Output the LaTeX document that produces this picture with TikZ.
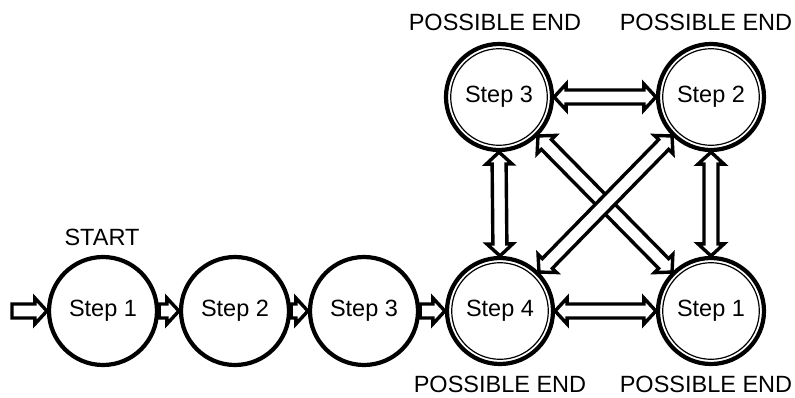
\documentclass[tikz,border=0pt]{standalone}
\usepackage{fontspec}
\setmainfont{Liberation Sans}
\usetikzlibrary{calc}

% block arrow geometry
\newcommand\arrShaft{7pt}
\newcommand\arrHead{13pt}
\newcommand\arrLen{12pt}

\tikzset{
  stepnode/.style={circle, draw, line width=4.2pt, minimum size=108pt, inner sep=0pt,
    font=\fontsize{23.5}{27}\selectfont},
  endnode/.style={circle, draw, line width=4.2pt, minimum size=106pt, inner sep=0pt,
    font=\fontsize{23.5}{27}\selectfont,
    path picture={\draw[line width=1.2pt] (path picture bounding box.center) circle (48.3pt);}},
  caption/.style={font=\fontsize{23.5}{27}\selectfont, inner sep=0pt},
  % hollow arrow with one head, drawn as an outlined polygon
  blockarrow/.style={draw=black, fill=white, line width=3.4pt, line join=miter,
    to path={
      ($(\tikztostart)!\arrShaft!90:(\tikztotarget)$)
      -- ($($(\tikztotarget)!\arrLen!(\tikztostart)$)!\arrShaft!90:(\tikztotarget)$)
      -- ($($(\tikztotarget)!\arrLen!(\tikztostart)$)!\arrHead!90:(\tikztotarget)$)
      -- (\tikztotarget)
      -- ($($(\tikztotarget)!\arrLen!(\tikztostart)$)!\arrHead!-90:(\tikztotarget)$)
      -- ($($(\tikztotarget)!\arrLen!(\tikztostart)$)!\arrShaft!-90:(\tikztotarget)$)
      -- ($(\tikztostart)!\arrShaft!-90:(\tikztotarget)$)
      -- cycle}},
  % hollow arrow with a head at each end
  dblockarrow/.style={draw=black, fill=white, line width=3.4pt, line join=miter,
    to path={
      (\tikztostart)
      -- ($($(\tikztostart)!\arrLen!(\tikztotarget)$)!\arrHead!90:(\tikztotarget)$)
      -- ($($(\tikztostart)!\arrLen!(\tikztotarget)$)!\arrShaft!90:(\tikztotarget)$)
      -- ($($(\tikztotarget)!\arrLen!(\tikztostart)$)!\arrShaft!90:(\tikztotarget)$)
      -- ($($(\tikztotarget)!\arrLen!(\tikztostart)$)!\arrHead!90:(\tikztotarget)$)
      -- (\tikztotarget)
      -- ($($(\tikztotarget)!\arrLen!(\tikztostart)$)!\arrHead!-90:(\tikztotarget)$)
      -- ($($(\tikztotarget)!\arrLen!(\tikztostart)$)!\arrShaft!-90:(\tikztotarget)$)
      -- ($($(\tikztostart)!\arrLen!(\tikztotarget)$)!\arrShaft!-90:(\tikztotarget)$)
      -- ($($(\tikztostart)!\arrLen!(\tikztotarget)$)!\arrHead!-90:(\tikztotarget)$)
      -- cycle}}
}

\begin{document}
\begin{tikzpicture}[x=1pt, y=-1pt]
  \useasboundingbox (0,0) rectangle (795,397);

  % linear chain
  \node[stepnode] (s1) at (103,311) {Step 1};
  \node[stepnode] (s2) at (235,311) {Step 2};
  \node[stepnode] (s3) at (364,311) {Step 3};

  % possible end states
  \node[endnode] (e4) at (500,311) {Step 4};
  \node[endnode] (e1) at (711,311) {Step 1};
  \node[endnode] (t3) at (499,97) {Step 3};
  \node[endnode] (t2) at (711,97) {Step 2};

  % captions
  \node[caption] (lstart) at (102,237) {START};
  \node[caption] (lt3) at (495,22) {POSSIBLE END};
  \node[caption] (lt2) at (706,22) {POSSIBLE END};
  \node[caption] (le4) at (500,384) {POSSIBLE END};
  \node[caption] (le1) at (706,384) {POSSIBLE END};

  % entry and chain arrows
  \coordinate (entry) at (12,311);
  \draw[blockarrow] (entry) to (s1.west);
  \draw[blockarrow] (s1.east) to (s2.west);
  \draw[blockarrow] (s2.east) to (s3.west);
  \draw[blockarrow] (s3.east) to (e4.west);

  % transitions between end states
  \draw[dblockarrow] (t3.east) to (t2.west);
  \draw[dblockarrow] (e4.east) to (e1.west);
  \draw[dblockarrow] (t3.south) to (e4.north);
  \draw[dblockarrow] (t2.south) to (e1.north);
  \draw[dblockarrow] (t3.-45) to (e1.135);
  \draw[dblockarrow] (e4.45) to (t2.-135);
\end{tikzpicture}
\end{document}
